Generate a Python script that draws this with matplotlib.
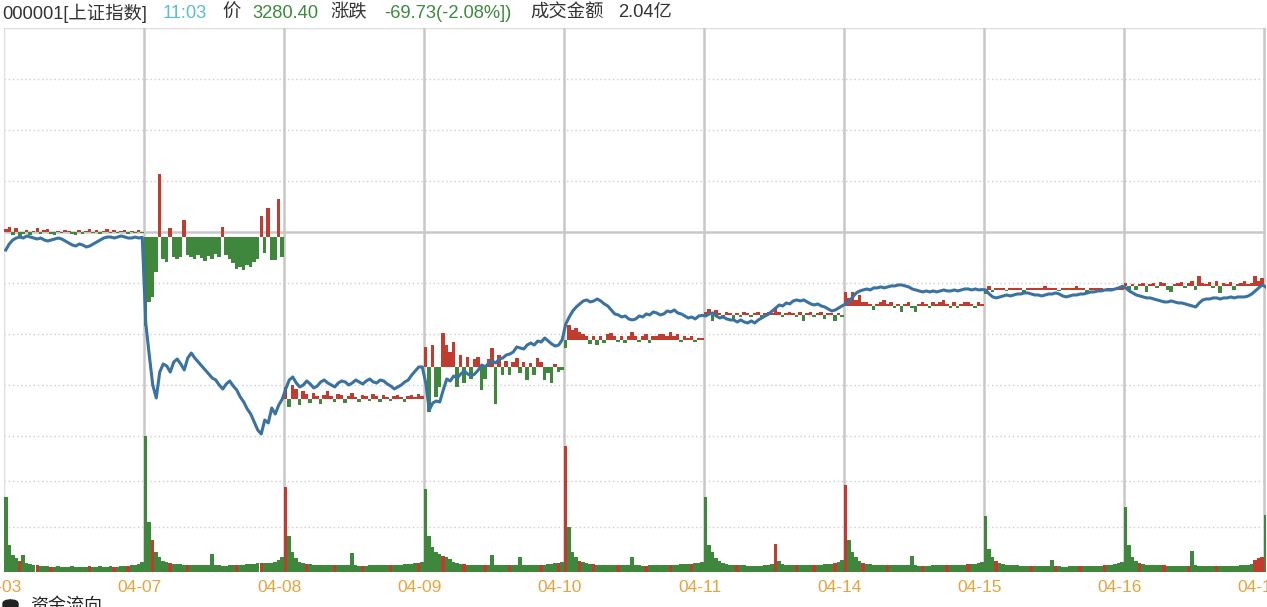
import numpy as np
import matplotlib
matplotlib.use("Agg")
import matplotlib.pyplot as plt
import matplotlib.transforms as mtransforms
from matplotlib.patches import FancyBboxPatch

plt.rcParams['font.family'] = ['Liberation Sans', 'Noto Sans CJK SC', 'DejaVu Sans']

# ---- data: 9 trading days, 40 samples per day (6 minute steps) ----
days = ["04-03", "04-07", "04-08", "04-09", "04-10", "04-11", "04-14", "04-15", "04-16", "04-17"]
prev_close = [3350.13, 3342.01, 3096.58, 3145.55, 3186.81, 3223.64, 3238.23, 3262.81, 3267.66, 3276.00]

price = [
    [3322.8, 3331.9, 3338.0, 3341.0, 3342.5, 3341.0, 3344.1, 3342.5, 3341.0, 3339.5,
     3341.0, 3338.0, 3336.5, 3338.0, 3339.5, 3341.0, 3339.5, 3336.5, 3333.4, 3330.4,
     3328.9, 3331.9, 3330.4, 3327.4, 3328.9, 3331.9, 3335.0, 3338.0, 3341.0, 3342.5,
     3342.5, 3341.0, 3342.5, 3344.1, 3342.5, 3341.0, 3341.0, 3342.5, 3341.0, 3342.0],
    [3212.1, 3163.5, 3118.0, 3098.3, 3137.7, 3149.9, 3146.8, 3137.7, 3152.9, 3157.4,
     3149.9, 3140.8, 3159.0, 3166.5, 3159.0, 3152.9, 3146.8, 3140.8, 3134.7, 3128.6,
     3125.6, 3118.0, 3111.9, 3119.5, 3124.1, 3116.5, 3110.4, 3099.8, 3092.2, 3081.6,
     3074.0, 3061.9, 3049.7, 3043.7, 3064.9, 3060.4, 3083.1, 3074.0, 3087.7, 3096.6],
    [3112.2, 3125.6, 3130.2, 3121.1, 3115.0, 3118.0, 3124.1, 3119.5, 3113.5, 3116.5,
     3122.6, 3125.6, 3121.1, 3118.0, 3115.0, 3121.1, 3124.1, 3122.6, 3118.0, 3121.1,
     3125.6, 3122.6, 3119.5, 3124.1, 3127.1, 3122.6, 3121.1, 3125.6, 3124.1, 3119.5,
     3116.5, 3112.0, 3115.0, 3118.0, 3122.6, 3125.6, 3133.2, 3139.3, 3145.3, 3145.5],
    [3121.1, 3080.1, 3090.7, 3093.7, 3092.2, 3110.4, 3127.1, 3124.1, 3131.7, 3128.6,
     3134.7, 3139.3, 3134.7, 3131.7, 3134.7, 3140.8, 3148.4, 3145.3, 3151.4, 3154.4,
     3151.4, 3157.4, 3159.0, 3163.5, 3165.0, 3168.1, 3175.7, 3174.1, 3172.6, 3178.7,
     3181.7, 3178.7, 3184.7, 3183.2, 3189.3, 3184.7, 3180.2, 3177.1, 3178.7, 3186.8],
    [3210.6, 3221.2, 3230.3, 3236.4, 3241.0, 3245.5, 3247.0, 3244.0, 3245.5, 3248.5,
     3245.5, 3241.0, 3237.9, 3231.8, 3225.8, 3224.3, 3221.2, 3222.7, 3218.2, 3216.7,
     3218.2, 3222.7, 3221.2, 3225.8, 3224.3, 3228.8, 3227.3, 3224.3, 3225.8, 3230.3,
     3228.8, 3231.8, 3227.3, 3225.8, 3222.7, 3219.7, 3221.2, 3218.2, 3222.7, 3223.6],
    [3222.7, 3225.8, 3227.3, 3222.7, 3219.7, 3221.2, 3218.2, 3216.7, 3216.7, 3213.6,
     3216.7, 3213.6, 3212.1, 3215.2, 3212.1, 3216.7, 3219.7, 3222.7, 3225.8, 3230.3,
     3234.9, 3239.4, 3237.9, 3242.5, 3241.0, 3245.5, 3247.0, 3245.5, 3247.0, 3244.0,
     3241.0, 3239.4, 3241.0, 3237.9, 3236.4, 3233.4, 3230.3, 3231.8, 3234.9, 3238.2],
    [3241.0, 3245.5, 3251.6, 3257.7, 3260.7, 3262.2, 3263.7, 3262.2, 3265.3, 3265.3,
     3266.8, 3265.3, 3266.8, 3268.3, 3268.3, 3269.8, 3269.8, 3268.3, 3266.8, 3263.7,
     3262.2, 3260.7, 3259.2, 3260.7, 3259.2, 3260.7, 3259.2, 3260.7, 3262.2, 3260.7,
     3260.7, 3262.2, 3260.7, 3262.2, 3263.7, 3263.7, 3262.2, 3263.7, 3262.2, 3262.8],
    [3262.2, 3256.1, 3251.6, 3250.1, 3251.6, 3253.1, 3254.6, 3253.1, 3254.6, 3256.1,
     3256.1, 3257.7, 3257.7, 3256.1, 3254.6, 3254.6, 3253.1, 3254.6, 3256.1, 3256.1,
     3257.7, 3256.1, 3253.1, 3251.6, 3253.1, 3254.6, 3254.6, 3256.1, 3256.1, 3257.7,
     3259.2, 3259.2, 3260.7, 3260.7, 3262.2, 3262.2, 3262.2, 3263.7, 3265.3, 3267.7],
    [3265.3, 3260.7, 3257.7, 3254.6, 3253.1, 3251.6, 3250.1, 3250.1, 3248.5, 3247.0,
     3245.5, 3244.0, 3244.0, 3245.5, 3244.0, 3242.5, 3242.5, 3241.0, 3239.4, 3237.9,
     3236.4, 3242.5, 3247.0, 3248.5, 3248.5, 3250.1, 3250.1, 3248.5, 3250.1, 3250.1,
     3251.6, 3250.1, 3251.6, 3251.6, 3251.6, 3253.1, 3256.1, 3260.7, 3265.3, 3270.0],
    [3266.8],
]

# red (+) / green (-) bars around each day's previous close, index points
diff_bars = [
    [5, 8, -5, 6, -6, -3, 3, -5, 2, 6, -3, 3, 5, -3, -5, 2, -2, 3, 2, -3,
     -5, 3, -3, 2, 5, -2, 3, -3, 2, 5, -2, 3, -2, 2, 3, -3, 2, -2, 3, -2],
    [-135, -98, -90, -52, 96, -33, -38, 14, -30, -33, -30, 27, -27, -30, -33, -27, -32, -36, -29, -33,
     -26, -30, 15, -27, -33, -39, -48, -45, -50, -42, -45, -38, -33, 33, -24, 45, -35, -35, 58, -30],
    [18, -12, 21, 15, -9, 12, 8, -6, 9, 5, -8, 6, 12, 5, -5, 8, 6, -6, 5, 9,
     3, -5, 6, 5, -3, 8, 5, -5, 6, 3, -3, 5, 6, 3, -5, 5, 6, 3, 8, 5],
    [30, -69, 33, -45, -30, 52, 33, 22, 38, -30, 18, -24, 15, -18, 12, 15, -35, -18, 12, 28,
     -57, 18, -12, 9, -12, 8, 14, -9, 8, -20, 6, -12, 14, 8, -20, -9, -24, 5, -8, -5],
    [-12, 22, 15, 18, 12, 8, 5, -6, 6, -8, 5, -5, 8, 10, 5, -3, 6, -5, 5, 12,
     6, -3, 5, 8, -5, 6, 5, 8, 9, 6, 12, 5, 8, -3, 5, 3, 5, -3, 2, 2],
    [5, 10, -8, 8, 3, -3, 5, 3, -5, 3, -3, 5, 3, -3, 3, 5, -3, 3, 5, 3,
     10, 5, -3, 3, 5, 3, -3, 5, -8, 3, 5, -3, 3, 5, -5, 3, 3, -8, 3, -3],
    [21, 12, 21, 9, 17, 6, 5, 3, -6, 3, 5, 9, 3, 5, -3, 3, -10, 3, 5, -3,
     -9, 3, 5, 3, -3, 6, 3, 5, 9, 3, -3, 5, -3, 3, 5, 6, 3, -3, 5, 3],
    [-6, 5, -3, 3, 2, 3, -2, 3, 2, 3, 2, -3, 3, 2, 3, 2, 3, 5, 2, 3,
     2, -2, 3, 2, 3, 2, 5, 3, 2, -3, 2, 3, 2, 3, -2, 3, 2, 3, 2, 3],
    [5, -5, 3, -6, 3, 5, -9, 3, 5, -3, 6, 5, -5, -9, 3, 5, 6, -3, 5, 8,
     -5, 15, 5, 3, 6, -3, 8, -10, 5, 3, 6, -5, 3, 5, 8, 3, 5, 15, 8, 12],
    [0],
]

# turnover per step (panel scale 0-150)
volume = [
    [83, 30, 19, 15, 12, 19, 10, 9, 8, 8, 7, 7, 7, 6, 6, 7, 6, 6, 6, 7,
     6, 6, 6, 6, 7, 6, 6, 7, 6, 6, 7, 6, 6, 7, 7, 7, 8, 8, 9, 11],
    [150, 55, 35, 22, 16, 12, 11, 10, 9, 9, 9, 8, 8, 8, 8, 8, 8, 8, 8, 20,
     8, 8, 7, 7, 8, 8, 8, 8, 8, 9, 9, 9, 10, 10, 10, 10, 10, 11, 13, 16],
    [94, 40, 22, 15, 11, 10, 9, 9, 8, 8, 8, 8, 8, 8, 8, 8, 8, 8, 8, 21,
     8, 7, 7, 7, 8, 8, 8, 8, 8, 8, 8, 8, 8, 8, 9, 9, 9, 10, 10, 11],
    [91, 40, 28, 22, 20, 18, 16, 14, 11, 10, 9, 9, 8, 8, 8, 8, 8, 8, 8, 19,
     8, 8, 8, 8, 8, 8, 8, 16, 8, 8, 8, 8, 8, 8, 8, 9, 9, 10, 10, 11],
    [139, 50, 22, 17, 12, 11, 10, 9, 9, 8, 8, 8, 8, 8, 8, 8, 8, 8, 8, 17,
     8, 8, 7, 7, 8, 8, 8, 8, 8, 8, 8, 8, 8, 9, 9, 9, 9, 10, 10, 11],
    [83, 30, 22, 15, 12, 10, 9, 8, 8, 8, 8, 8, 7, 7, 7, 7, 7, 8, 8, 9,
     31, 12, 9, 8, 8, 8, 8, 8, 8, 8, 8, 8, 8, 8, 9, 9, 9, 10, 11, 13],
    [96, 35, 22, 16, 12, 10, 9, 9, 8, 8, 8, 8, 8, 8, 8, 8, 8, 8, 8, 18,
     8, 7, 7, 7, 7, 8, 8, 8, 8, 8, 8, 8, 8, 8, 8, 9, 9, 9, 10, 11],
    [62, 25, 16, 12, 10, 9, 8, 8, 8, 8, 7, 7, 7, 7, 7, 7, 7, 7, 7, 13,
     7, 7, 6, 6, 7, 7, 7, 7, 7, 7, 7, 7, 7, 7, 8, 8, 8, 9, 10, 11],
    [72, 30, 17, 12, 10, 9, 8, 8, 8, 8, 8, 8, 7, 7, 7, 7, 7, 7, 7, 23,
     8, 7, 7, 7, 7, 7, 7, 7, 7, 7, 7, 7, 7, 8, 8, 8, 9, 13, 15, 17],
    [63],
]
vol_red = [
    [4, 9, 13, 24, 31, 35],
    [2, 7, 12, 26, 33],
    [0, 6, 14, 22, 30, 38],
    [5, 11, 17, 24, 33, 38],
    [0, 4, 8, 15, 23, 30, 36],
    [9, 20, 26, 31, 37],
    [0, 5, 12, 22, 29, 35],
    [3, 13, 20, 27, 34],
    [4, 11, 18, 26, 37, 38, 39],
    [],
]

RED = "#c23b2f"
GREEN = "#3f873d"
BLUE = "#3a72a2"
GRID = "#cfcfcf"
STEP = 6
DAY = 240

W, H = 1267, 607
fig = plt.figure(figsize=(W / 100, H / 100), dpi=100)
fig.patch.set_facecolor("white")

def frac(px_left, px_top, px_right, px_bottom):
    return [px_left / W, 1 - px_bottom / H, (px_right - px_left) / W, (px_bottom - px_top) / H]

ax = fig.add_axes(frac(4, 28, 1266, 436))
axv = fig.add_axes(frac(4, 436, 1266, 572), sharex=ax)

half = 309.5
center = prev_close[0]
ax.set_ylim(center - half, center + half)
axv.set_ylim(0, 150)
ax.set_xlim(0, 1262 / 140 * DAY)

for a in (ax, axv):
    for s in a.spines.values():
        s.set_visible(False)
    a.set_xticks([])
    a.set_yticks([])

# horizontal grid
levels = np.linspace(center - half, center + half, 9)
for i, lv in enumerate(levels):
    if i == 4:
        ax.axhline(lv, color="#c8c8c8", lw=1.8, zorder=1)
    elif i == 8:
        ax.axhline(lv, color="#dddddd", lw=1.0, zorder=1)
    else:
        ax.axhline(lv, color=GRID, lw=1.0, ls=(0, (1, 2)), zorder=1)
for lv in (50, 100, 150):
    axv.axhline(lv, color=GRID, lw=1.0, ls=(0, (1, 2)), zorder=1)
axv.axhline(0, color="#dddddd", lw=0.8, zorder=1)

# day separators
for k in range(len(days)):
    c, lw = ("#dddddd", 1.0) if k == 0 else ("#c8c8c8", 1.8)
    ax.axvline(k * DAY, color=c, lw=lw, zorder=1)
    axv.axvline(k * DAY, color=c, lw=lw, zorder=1)

# bars and line
xs_all, ps_all = [], []
for k in range(len(days)):
    n = len(price[k])
    xs = k * DAY + np.arange(n) * STEP + STEP / 2
    d = np.array(diff_bars[k], dtype=float)
    cols = [RED if v >= 0 else GREEN for v in d]
    ax.bar(xs, d, bottom=prev_close[k], width=STEP, color=cols, linewidth=0, zorder=2)
    vcols = [RED if i in vol_red[k] else GREEN for i in range(len(volume[k]))]
    axv.bar(xs, volume[k], width=STEP, color=vcols, linewidth=0, zorder=2)
    xs_all.extend(xs)
    ps_all.extend(price[k])
ax.plot(xs_all, ps_all, color=BLUE, lw=2.2, zorder=3, solid_joinstyle="round")

# date labels (as texts so the first one can run off the left edge)
trans = mtransforms.blended_transform_factory(axv.transData, axv.transAxes)
for k, lab in enumerate(days):
    axv.text(k * DAY - 7, -0.115, lab, transform=trans, color="#e6a43f",
             fontsize=12.5, ha="center", va="center", clip_on=False)

# header
hy = 1 - 13 / H
parts = [
    (2, "000001[上证指数]", "#333333"),
    (163, "11:03", "#5cc0c9"),
    (222, "价", "#333333"),
    (252, "3280.40", "#3d8a3f"),
    (330, "涨跌", "#333333"),
    (384, "-69.73(-2.08%])", "#3d8a3f"),
    (530, "成交金额", "#333333"),
    (618, "2.04亿", "#333333"),
]
for px, s, c in parts:
    fig.text(px / W, hy, s, color=c, fontsize=13.2, ha="left", va="center")

# cut-off footer
fig.patches.append(FancyBboxPatch((3 / W, 1 - 614 / H), 15 / W, 14 / H,
                                  boxstyle="round,pad=0,rounding_size=0.006",
                                  transform=fig.transFigure, color="#222222"))
fig.text(30 / W, 1 - 598 / H, "资金流向", color="#222222", fontsize=13, ha="left", va="top")

fig.savefig("out.png", dpi=100)
